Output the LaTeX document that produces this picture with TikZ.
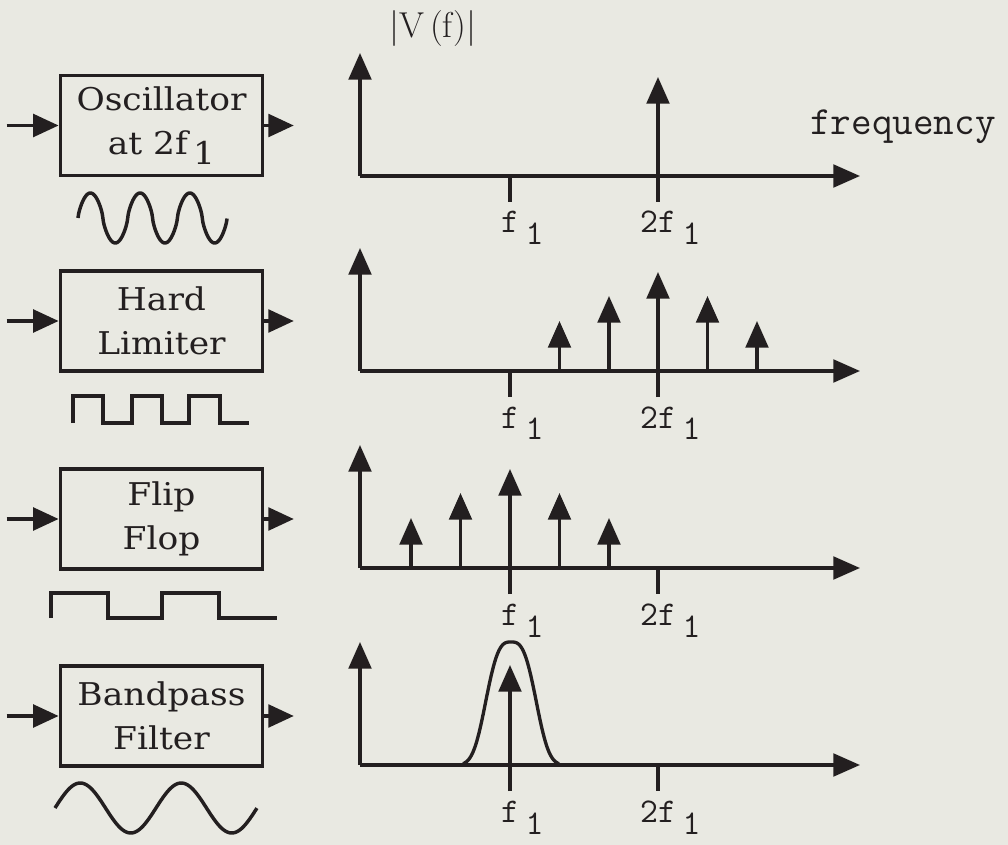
\documentclass[tikz,border=0pt]{standalone}
\usepackage{fontspec}
\usetikzlibrary{arrows.meta}
\newfontfamily\boxfont[FakeStretch=1.1]{DejaVu Serif}
\definecolor{inkc}{RGB}{35,31,32}
\definecolor{bgc}{RGB}{233,233,226}
\begin{document}
\begin{tikzpicture}[x=0.75pt,y=-0.75pt,
  declare function={osc(\t)=sin(360*\t)*(abs(sin(360*\t))+0.001)^(-0.3);},
  ink/.style={draw=inkc, line width=2.4pt},
  blk/.style={ink, minimum width=152pt, minimum height=75pt, inner sep=0pt, align=center,
    font=\boxfont\fontsize{23.5}{33}\selectfont, text=inkc},
  sig/.style={ink, line width=2.6pt, line join=miter},
  io/.style={ink, -{Triangle[length=19pt,width=17pt]}},
  ax/.style={ink, -{Triangle[length=20pt,width=17pt]}},
  imp/.style={ink, -{Triangle[length=20pt,width=17pt]}},
  lbl/.style={font=\ttfamily\fontsize{26}{26}\selectfont, text=inkc, inner sep=0pt}
]
\fill[bgc] (0,0) rectangle (1008,845);
\useasboundingbox (0,0) rectangle (1008,845);

% ---------- blocks ----------
\node[blk] (b1) at (161.5,125.5) {Oscillator\\ at 2f\,\raisebox{-8pt}{1}};
\node[blk] (b2) at (161.5,321) {Hard\\ Limiter};
\node[blk] (b3) at (161.5,519) {Flip\\ Flop};
\node[blk] (b4) at (161.5,716) {Bandpass\\ Filter};

\foreach \b in {1,2,3,4}{
  \coordinate (in\b) at ([xshift=-39pt]b\b.west);
  \coordinate (out\b) at ([xshift=22pt]b\b.east);
  \draw[io] (in\b) -- (b\b.west);
  \draw[io] (b\b.east) -- (out\b);
}

% ---------- waveforms ----------
\draw[sig] plot[domain=0:3, samples=241, smooth] ({78+49.7*\x},{218-25*osc(\x)});
\draw[sig] (73,423) -- (73,396) -- (103,396) -- (103,423) -- (132,423) -- (132,396)
  -- (162,396) -- (162,423) -- (189,423) -- (189,396) -- (220,396) -- (220,423) -- (249,423);
\draw[sig] (51,618) -- (51,593) -- (108,593) -- (108,618) -- (162,618) -- (162,593)
  -- (219,593) -- (219,618) -- (277,618);
\draw[sig] plot[domain=0:2, samples=120, smooth] ({55+101*\x},{808-25*sin(360*\x)});

% ---------- spectra ----------
\foreach \k/\A in {1/176,2/371,3/568,4/765}{
  \coordinate (o\k) at (360,\A);
  \coordinate (ytop\k) at (360,\A-123);
  \coordinate (xend\k) at (860,\A);
  \draw[ax] (o\k) -- (ytop\k);
  \draw[ax] (o\k) -- (xend\k);
  \node[lbl, anchor=base] (lf\k) at (510,\A+57) {f\rlap{\kern5pt\raisebox{-9pt}{1}}};
  \node[lbl, anchor=base] (l2f\k) at (658,\A+57) {2f\rlap{\kern5pt\raisebox{-9pt}{1}}};
}

% panel 1
\draw[ink] (510,176) -- (510,202);
\draw[imp] (658,202) -- (658,77);
% panel 2
\draw[ink] (510,371) -- (510,397);
\draw[imp] (559.5,371) -- (559.5,321);
\draw[imp] (609,371) -- (609,296);
\draw[imp] (658,397) -- (658,272);
\draw[imp] (707.5,371) -- (707.5,296);
\draw[imp] (757,371) -- (757,321);
% panel 3
\draw[ink] (658,568) -- (658,594);
\draw[imp] (411,568) -- (411,518);
\draw[imp] (460.5,568) -- (460.5,493);
\draw[imp] (510,594) -- (510,469);
\draw[imp] (559.5,568) -- (559.5,493);
\draw[imp] (609,568) -- (609,518);
% panel 4
\draw[ink] (658,765) -- (658,791);
\draw[imp] (510,791) -- (510,665);
\draw[ink, line width=2.5pt] plot[domain=-48:48, samples=97, smooth] ({511+\x},{765-123*exp(-((abs(\x)/29)^3))});

% ---------- axis captions ----------
\node[lbl, font=\ttfamily\fontsize{30}{30}\selectfont, anchor=base west] (freq) at (810,135) {frequency};
\node[font=\fontsize{27}{27}\selectfont, text=inkc, anchor=base west, inner sep=0pt] (vf) at (389,38) {|V\,(f)|};
\end{tikzpicture}
\end{document}
